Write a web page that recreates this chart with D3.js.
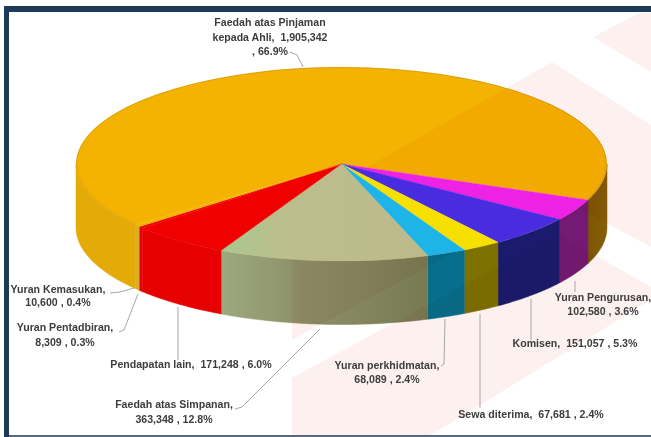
<!DOCTYPE html>
<html><head><meta charset="utf-8">
<script src="https://cdnjs.cloudflare.com/ajax/libs/d3/7.8.5/d3.min.js"></script>
<style>html,body{margin:0;padding:0;background:#fff;overflow:hidden}svg{display:block;filter:blur(.6px)}text{white-space:pre}</style>
</head><body><svg id="c" width="651" height="437"></svg>
<script>
const categories=["Faedah atas Pinjaman kepada Ahli","Yuran Pengurusan","Komisen","Sewa diterima","Yuran perkhidmatan","Faedah atas Simpanan","Pendapatan lain","Yuran Pentadbiran","Yuran Kemasukan"];
const values=[1905342,102580,151057,67681,68089,363348,171248,8309,10600];
const shares=["66.9%","3.6%","5.3%","2.4%","2.4%","12.8%","6.0%","0.3%","0.4%"];
const topColors=["#f4b300","#ee22e4","#4a2ce0","#f7e000","#1fb4e8","url(#khakiTop)","#f00000","#f00000","#f4b300"];
const wallColors=["#e4aa08","#741a74","#1b1b6e","#7d7200","#076f8c","url(#khakiWall)","#e60000","#e60000","#d9b020"];
const labelLines=[["Faedah atas Pinjaman","kepada Ahli,  1,905,342",", 66.9%"],["Yuran Pengurusan,","102,580 , 3.6%"],["Komisen,  151,057 , 5.3%"],["Sewa diterima,  67,681 , 2.4%"],["Yuran perkhidmatan,","68,089 , 2.4%"],["Faedah atas Simpanan,","363,348 , 12.8%"],["Pendapatan lain,  171,248 , 6.0%"],["Yuran Pentadbiran,","8,309 , 0.3%"],["Yuran Kemasukan,","10,600 , 0.4%"]];
// layout only: label anchor, line spacing and leader paths
const labelPos=[[270,26],[603,301],[575,347],[531,418],[387,369],[174,408],[191,368],[65,331],[58,293]];
const labelStep=[14.5,14,0,0,13.5,15,0,15,13];
const leaders=[[[303,67],[297,55],[290,52]],[[575,281],[575,292]],[[531,299],[531,340]],[[480,314],[480,408]],[[445,319],[444,364],[441,366]],[[320,329],[242,407],[235,409]],[[178,307],[178,360]],[[138,294],[124,330],[119,332]],[[134,288],[120,292],[110,293]]];
const watermarkPolys=[[[639,13],[651,13],[651,72],[593,37]],[[552,62],[651,125],[651,247],[557,197],[292,340],[292,210]],[[558,234],[651,287],[651,300],[428,437],[292,437],[292,378]]];

const svg=d3.select("#c");
const cx=341.5,cy=164,rx=265.5,ry=97,depth=63.5;
const x=d3.scaleLinear().domain([-1,1]).range([cx-rx,cx+rx]);
const y=d3.scaleLinear().domain([-1,1]).range([cy-ry,cy+ry]);
const start=-129*Math.PI/180;
const arcs=d3.pie().sort(null).startAngle(start).endAngle(start+2*Math.PI)(values);

svg.append("rect").attr("width",651).attr("height",437).attr("fill","#fff");

const defs=svg.append("defs");
function grad(id,stops){
  const g=defs.append("linearGradient").attr("id",id).attr("gradientUnits","userSpaceOnUse")
    .attr("x1",stops[0][0]).attr("x2",stops[stops.length-1][0]).attr("y1",0).attr("y2",0);
  stops.forEach(s=>g.append("stop").attr("offset",(s[0]-stops[0][0])/(stops[stops.length-1][0]-stops[0][0])).attr("stop-color",s[1]));
}
grad("khakiWall",[[220,"#9ea97f"],[300,"#8d9068"],[427,"#787a52"]]);
grad("khakiTop",[[-125,"#a9c88f"],[-50,"#bcbd8d"],[85,"#bdba8a"]]);
grad("rightWall",[[558,"#6d4a00"],[607,"#855e06"]]);

const px=a=>x(Math.sin(a)), py=a=>y(-Math.cos(a));
function wall(a0,a1){
  const lo=Math.max(a0,Math.PI/2), hi=Math.min(a1,3*Math.PI/2);
  if(hi<=lo) return null;
  const ts=d3.range(0,41).map(i=>lo+(hi-lo)*i/40);
  const up=ts.map(a=>[px(a),py(a)]), dn=ts.slice().reverse().map(a=>[px(a),py(a)+depth]);
  return d3.line()(up.concat(dn))+"Z";
}
// walls
arcs.forEach((d,i)=>{
  [0,2*Math.PI].forEach(off=>{
    const p=wall(d.startAngle+off,d.endAngle+off);
    if(!p) return;
    let fill=wallColors[i];
    if(i===0&&off===0) fill="url(#rightWall)";
    svg.append("path").attr("d",p).attr("fill",fill).attr("stroke",fill).attr("stroke-width",.5);
  });
});
// top faces
const arcGen=d3.arc().innerRadius(0).outerRadius(rx);
const topTransform=`translate(${cx},${cy}) scale(1,${ry/rx})`;
svg.append("g").attr("transform",topTransform).selectAll("path").data(arcs.slice(0,1)).join("path").attr("d",arcGen).attr("fill",topColors[0]);
// rim shading
svg.append("ellipse").attr("cx",cx).attr("cy",cy).attr("rx",rx-.5).attr("ry",ry-.5).attr("fill","none").attr("stroke","#a87a10").attr("stroke-width",1).attr("opacity",.35);

// watermark
svg.append("g").style("mix-blend-mode","multiply").selectAll("polygon").data(watermarkPolys).join("polygon")
  .attr("points",d=>d.join(" ")).attr("fill","#fdf1f0");

// remaining top faces sit above the watermark
svg.append("g").attr("transform",topTransform).selectAll("path").data(arcs.slice(1)).join("path").attr("d",arcGen).attr("fill",(d,i)=>topColors[i+1]).attr("stroke",(d,i)=>topColors[i+1]).attr("stroke-width",.5);

// leaders
svg.append("g").selectAll("path").data(leaders).join("path").attr("d",d3.line()).attr("fill","none").attr("stroke","#a6a6a6").attr("stroke-width",1);

// labels
const labelG=svg.append("g").style("filter","blur(.3px)");
labelLines.forEach((ls,i)=>{
  const t=labelG.append("text").attr("x",labelPos[i][0]).attr("y",labelPos[i][1]).attr("text-anchor","middle")
    .attr("font-family","'Liberation Sans',Arial,sans-serif").attr("font-weight","bold").attr("font-size",10.6).attr("fill","#3c3c3c");
  ls.forEach((s,j)=>t.append("tspan").attr("x",labelPos[i][0]).attr("dy",j?labelStep[i]:0).text(s));
});

// frame
const frame=svg.append("g").attr("fill","#1d3a57");
frame.append("rect").attr("x",4).attr("y",6).attr("width",647).attr("height",6);
frame.append("rect").attr("x",4).attr("y",6).attr("width",5).attr("height",431);
frame.append("rect").attr("x",4).attr("y",435).attr("width",647).attr("height",2).attr("opacity",.75);
</script></body></html>
